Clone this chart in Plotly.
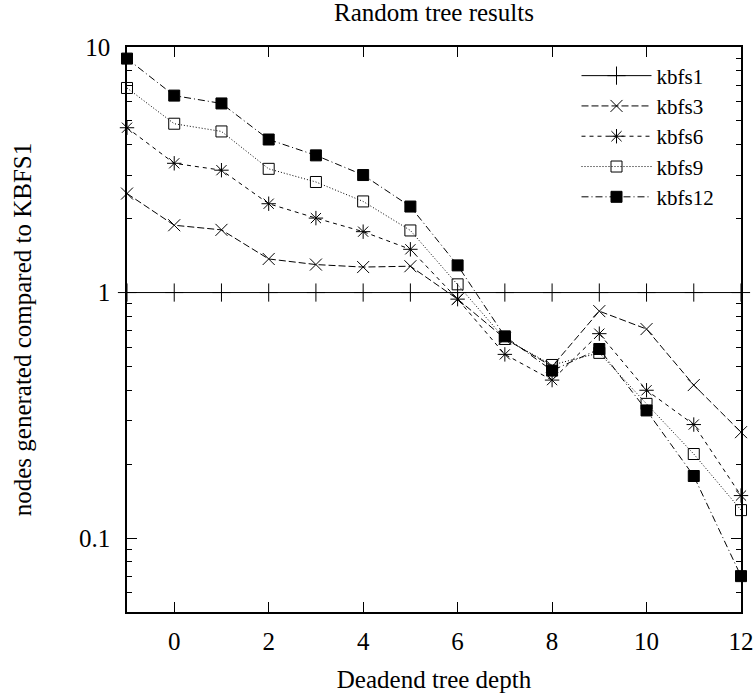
import plotly.graph_objects as go

depth = [-1, 0, 1, 2, 3, 4, 5, 6, 7, 8, 9, 10, 11, 12]
kbfs1 = [1, 1, 1, 1, 1, 1, 1, 1, 1, 1, 1, 1, 1, 1]
kbfs3 = [2.53, 1.88, 1.80, 1.37, 1.30, 1.27, 1.28, 0.94, 0.65, 0.50, 0.84, 0.71, 0.42, 0.27]
kbfs6 = [4.69, 3.36, 3.15, 2.30, 2.01, 1.77, 1.50, 0.94, 0.56, 0.44, 0.68, 0.40, 0.29, 0.149]
kbfs9 = [6.81, 4.87, 4.53, 3.19, 2.82, 2.35, 1.79, 1.08, 0.647, 0.507, 0.568, 0.352, 0.220, 0.130]
kbfs12 = [8.97, 6.34, 5.89, 4.20, 3.62, 3.01, 2.24, 1.29, 0.663, 0.481, 0.589, 0.331, 0.179, 0.070]

x_ticks = [0, 2, 4, 6, 8, 10, 12]
y_ticks = [0.1, 1, 10]
y_tick_text = ["0.1", "1", "10"]
y_minor = [0.05, 0.06, 0.07, 0.08, 0.09, 0.2, 0.3, 0.4, 0.5, 0.6, 0.7, 0.8, 0.9,
           2, 3, 4, 5, 6, 7, 8, 9]

FONT = "Liberation Serif"
FS = 25
series = [
    ("kbfs1", kbfs1, "solid", "cross-thin-open", 13),
    ("kbfs3", kbfs3, "7px,3px", "x-thin-open", 12),
    ("kbfs6", kbfs6, "4px,4px", "asterisk-open", 12),
    ("kbfs9", kbfs9, "1px,2px", "square-open", 11),
    ("kbfs12", kbfs12, "7px,3px,1px,3px", "square", 11),
]

fig = go.Figure()
for name, vals, dash, sym, size in series:
    fig.add_trace(go.Scatter(
        x=depth, y=vals, name=name, mode="lines+markers",
        line=dict(color="black", width=1, dash=dash),
        marker=dict(symbol=sym, size=size, color="black",
                    line=dict(color="black", width=1)),
        cliponaxis=False,
    ))

fig.update_layout(
    width=755, height=693,
    margin=dict(l=127, r=14, t=47, b=81),
    paper_bgcolor="white", plot_bgcolor="white",
    font=dict(family=FONT, size=FS, color="black"),
    title=dict(text="Random tree results", x=0.5, xref="paper", xanchor="center",
               y=1 - 3 / 693, yanchor="top", yref="container", pad=dict(t=0),
               font=dict(family=FONT, size=FS, color="black")),
    showlegend=True,
    legend=dict(x=0.965, y=0.985, xanchor="right", yanchor="top",
                bgcolor="rgba(0,0,0,0)", borderwidth=0,
                font=dict(family=FONT, size=21, color="black"),
                itemwidth=70, tracegroupgap=0),
)

fig.update_xaxes(
    range=[-1, 12], tickvals=x_ticks, ticks="inside", ticklen=10,
    tickwidth=1.2, tickcolor="black", showline=True, linecolor="black",
    linewidth=1.5, mirror="ticks", showgrid=False, zeroline=False,
    ticklabelstandoff=6, automargin=False,
    title=dict(text="Deadend tree depth", standoff=18,
               font=dict(family=FONT, size=FS, color="black")),
    tickfont=dict(family=FONT, size=FS, color="black"),
)
fig.update_yaxes(
    type="log", range=[-1.301, 1], tickvals=y_ticks, ticktext=y_tick_text,
    ticks="inside", ticklen=10, tickwidth=1.2, tickcolor="black",
    showline=True, linecolor="black", linewidth=1.5, mirror="ticks",
    showgrid=False, zeroline=False, ticklabelstandoff=10, automargin=False,
    minor=dict(tickvals=y_minor, ticks="inside", ticklen=5,
               tickcolor="black", tickwidth=1.2, showgrid=False),
    title=dict(text="nodes generated compared to KBFS1", standoff=40,
               font=dict(family=FONT, size=FS, color="black")),
    tickfont=dict(family=FONT, size=FS, color="black"),
)

fig.write_html("out.html", config={"displayModeBar": False},
               post_script="document.body.style.margin='0';document.body.style.padding='0';")
